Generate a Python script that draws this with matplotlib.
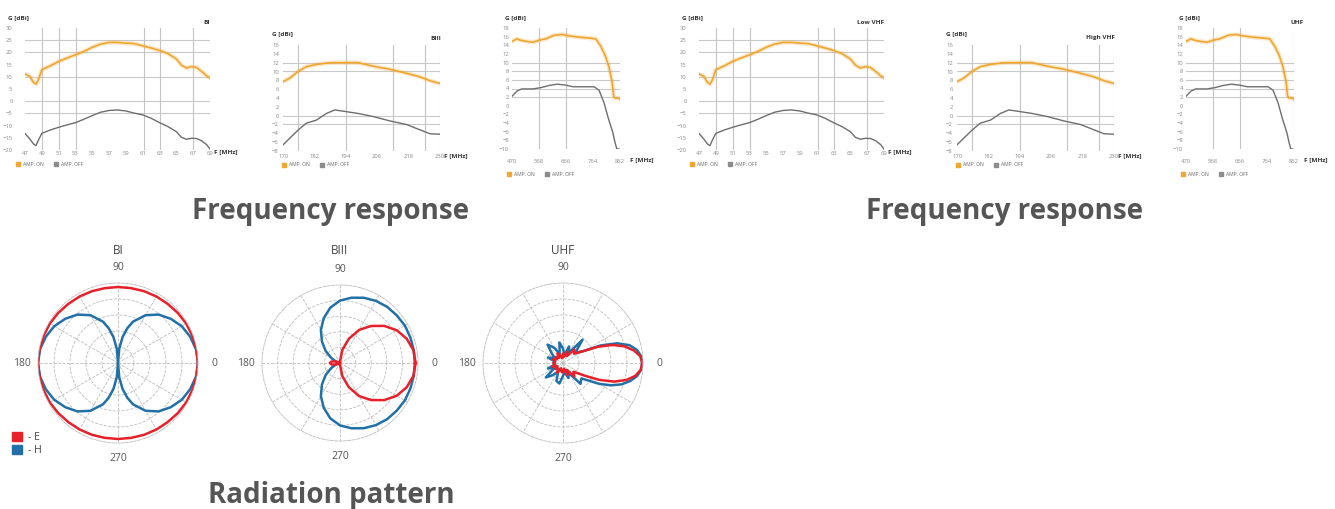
import numpy as np
import matplotlib
matplotlib.use('Agg')
import matplotlib.pyplot as plt
from matplotlib.patches import Patch

plt.rcParams['font.family'] = ['Open Sans', 'DejaVu Sans']

# ---- frequency response data ----
# BI / Low VHF
bi_freq = [47, 47.6, 48, 48.3, 48.6, 49, 50, 51, 52, 53, 54, 55, 56, 57, 58, 59,
           60, 61, 62, 63, 64, 65, 65.6, 66.2, 66.8, 67.4, 68, 68.6, 69]
bi_on = [11.2, 10.1, 7.7, 7.0, 8.8, 12.9, 14.5, 16.3, 17.7, 19.0, 20.4, 22.1, 23.4, 24.1, 24.1,
         23.8, 23.6, 22.7, 21.8, 20.8, 19.5, 17.3, 14.8, 13.6, 14.2, 13.8, 12.2, 10.4, 9.5]
bi_off = [-13.2, -15.6, -17.5, -18.2, -15.9, -13.2, -11.8, -10.7, -9.7, -8.8, -7.4, -5.9, -4.5,
          -3.8, -3.6, -4.0, -4.9, -5.6, -7.0, -8.8, -10.4, -12.5, -14.8, -15.6, -15.2, -15.3,
          -16.2, -17.8, -19.6]
bi_xticks = [47, 49, 51, 53, 55, 57, 59, 61, 63, 65, 67, 69]
bi_yticks = [30, 25, 20, 15, 10, 5, 0, -5, -10, -15, -20]

# BIII / High VHF
b3_freq = [170, 172.6, 175.7, 178.9, 182.8, 186.6, 189.8, 194.3, 198.7, 204.5, 210.9,
           217.2, 222.3, 226.2, 230]
b3_on = [7.7, 8.5, 10.0, 11.1, 11.6, 11.9, 12.0, 12.0, 12.0, 11.2, 10.5, 9.6, 8.8, 7.9, 7.3]
b3_off = [-6.6, -5.1, -3.3, -1.7, -1.0, 0.5, 1.3, 0.9, 0.5, -0.2, -1.2, -2.0, -3.2, -4.1, -4.2]
b3_xticks = [170, 182, 194, 206, 218, 230]
b3_yticks = [16, 14, 12, 10, 8, 6, 4, 2, 0, -2, -4, -6, -8]

# UHF
uhf_freq_on = [470, 488, 499, 523, 546, 570, 593, 622, 651, 675, 710, 745, 774, 792, 809,
               821, 833, 839, 844, 856, 862]
uhf_on = [14.9, 15.5, 15.2, 14.9, 14.7, 15.2, 15.5, 16.3, 16.5, 16.2, 15.9, 15.7, 15.5, 13.8,
          11.5, 9.2, 5.7, 2.2, 1.8, 1.8, 1.5]
uhf_freq_off = [470, 488, 505, 546, 575, 605, 634, 663, 692, 722, 768, 786, 804, 821, 836,
                844, 850, 862]
uhf_off = [2.2, 3.4, 3.9, 3.9, 4.2, 4.7, 5.0, 4.8, 4.4, 4.4, 4.4, 3.6, 0.7, -3.2, -6.2, -8.5,
           -9.9, -10.1]
uhf_xticks = [470, 568, 666, 764, 862]
uhf_yticks = [18, 16, 14, 12, 10, 8, 6, 4, 2, 0, -2, -4, -6, -8, -10]

titles_left = ['BI', 'BIII', '']
titles_right = ['Low VHF', 'High VHF', 'UHF']
legend_labels = ['AMP. ON', 'AMP. OFF']

# ---- radiation pattern data (normalised radius vs angle in degrees) ----
ang10 = list(range(0, 361, 10))
bi_e = [1.0, 0.995, 0.99, 0.985, 0.975, 0.965, 0.96, 0.955, 0.95, 0.95, 0.95, 0.955, 0.96,
        0.965, 0.975, 0.985, 0.99, 0.995, 1.0,
        0.995, 0.99, 0.985, 0.975, 0.965, 0.96, 0.955, 0.95, 0.95, 0.95, 0.955, 0.96, 0.965,
        0.975, 0.985, 0.99, 0.995, 1.0]
bi_h_ang = [0, 10, 20, 30, 40, 50, 60, 70, 75, 80, 85, 90, 95, 100, 105, 110, 120, 130, 140,
            150, 160, 170, 180, 190, 200, 210, 220, 230, 240, 250, 255, 260, 265, 270, 275,
            280, 285, 290, 300, 310, 320, 330, 340, 350, 360]
bi_h = [1.0, 0.99, 0.96, 0.92, 0.86, 0.79, 0.69, 0.55, 0.45, 0.33, 0.18, 0.0, 0.18, 0.33,
        0.45, 0.55, 0.69, 0.79, 0.86, 0.92, 0.96, 0.99, 1.0,
        0.99, 0.96, 0.92, 0.86, 0.79, 0.69, 0.55, 0.45, 0.33, 0.18, 0.0, 0.18, 0.33, 0.45,
        0.55, 0.69, 0.79, 0.86, 0.92, 0.96, 0.99, 1.0]
b3_e = [0.97, 0.955, 0.91, 0.84, 0.74, 0.62, 0.49, 0.33, 0.17, 0.02, 0.0, 0.0, 0.0, 0.0, 0.0,
        0.02, 0.06, 0.11, 0.13,
        0.11, 0.06, 0.02, 0.0, 0.0, 0.0, 0.0, 0.0, 0.02, 0.17, 0.33, 0.49, 0.62, 0.74, 0.84,
        0.91, 0.955, 0.97]
b3_h = [0.96, 0.96, 0.96, 0.96, 0.95, 0.94, 0.92, 0.89, 0.85, 0.80, 0.72, 0.61, 0.49, 0.36,
        0.24, 0.13, 0.06, 0.02, 0.0,
        0.02, 0.06, 0.13, 0.24, 0.36, 0.49, 0.61, 0.72, 0.80, 0.85, 0.89, 0.92, 0.94, 0.95,
        0.96, 0.96, 0.96, 0.96]
uhf_ang = [0, 5, 10, 15, 20, 25, 30, 40, 50, 60, 70, 80, 90, 100, 110, 120, 130, 140, 150,
           160, 170, 180, 190, 200, 210, 220, 230, 240, 250, 260, 270, 280, 290, 300, 310,
           320, 330, 335, 340, 345, 350, 355, 360]
uhf_e = [0.99, 0.97, 0.90, 0.80, 0.66, 0.48, 0.30, 0.18, 0.22, 0.10, 0.15, 0.08, 0.12, 0.06,
         0.10, 0.14, 0.08, 0.12, 0.09, 0.13, 0.10, 0.12, 0.10, 0.14, 0.08, 0.12, 0.09, 0.14,
         0.07, 0.11, 0.12, 0.07, 0.16, 0.10, 0.22, 0.17, 0.32, 0.50, 0.68, 0.82, 0.92, 0.975,
         0.99]
uhf_h = [0.99, 0.98, 0.94, 0.86, 0.72, 0.52, 0.30, 0.20, 0.38, 0.15, 0.22, 0.10, 0.18, 0.26,
         0.12, 0.22, 0.30, 0.18, 0.12, 0.20, 0.10, 0.12, 0.10, 0.20, 0.12, 0.28, 0.20, 0.12,
         0.24, 0.26, 0.16, 0.12, 0.20, 0.14, 0.34, 0.30, 0.52, 0.66, 0.78, 0.87, 0.94, 0.98,
         0.99]

ORANGE = '#f0a630'
GRAY = '#6e6e6e'
RED = '#e8202a'
BLUE = '#2270a8'

W, H = 1335, 509
fig = plt.figure(figsize=(W / 100, H / 100), dpi=100)


def rect(x0, y0, x1, y1):
    return [x0 / W, 1 - y1 / H, (x1 - x0) / W, (y1 - y0) / H]


def ftext(x, y, s, **kw):
    fig.text(x / W, 1 - y / H, s, **kw)


def freq_chart(box, f_on, g_on, f_off, g_off, xticks, yticks, hl, vl, title, ypad,
               gpos, tpos, fpos, lpos):
    ax = fig.add_axes(rect(*box))
    for v in hl:
        ax.axhline(v, color='#c9c9c9', lw=0.8, zorder=0)
    for v in vl:
        ax.axvline(v, color='#c4c4c4', lw=0.8, zorder=0)
    ax.plot(f_on, g_on, color=ORANGE, lw=3.2, alpha=0.25, solid_capstyle='round')
    ax.plot(f_on, g_on, color=ORANGE, lw=1.2)
    ax.plot(f_off, g_off, color=GRAY, lw=1.0)
    ax.set_xlim(xticks[0], xticks[-1])
    ax.set_ylim(yticks[-1], yticks[0])
    ax.set_xticks(xticks)
    ax.set_yticks(yticks)
    ax.tick_params(length=0, labelsize=4.2, colors='#8a8a8a')
    ax.tick_params(axis='y', pad=ypad)
    ax.tick_params(axis='x', pad=lpos[2])
    for s in ax.spines.values():
        s.set_visible(False)
    ax.patch.set_alpha(0)
    ftext(gpos[0], gpos[1], 'G [dBi]', fontsize=4.6, fontweight='bold', color='#333',
          va='center')
    if title:
        ftext(tpos[0], tpos[1], title, fontsize=4.6, fontweight='bold', color='#333',
              va='center', ha='right')
    ftext(fpos[0], fpos[1], 'F [MHz]', fontsize=4.6, fontweight='bold', color='#333',
          va='center')
    fig.legend(handles=[Patch(color=ORANGE), Patch(color='#8c8c8c')], labels=legend_labels,
               loc='center left', bbox_to_anchor=(lpos[0] / W, 1 - lpos[1] / H), ncol=2,
               fontsize=3.6, frameon=False, handlelength=0.8, handleheight=0.8,
               handletextpad=0.6, columnspacing=2.0, borderaxespad=0, borderpad=0,
               labelcolor='#666')


def draw_group(dx, titles):
    freq_chart((25 + dx, 28, 210 + dx, 150), bi_freq, bi_on, bi_freq, bi_off, bi_xticks,
               bi_yticks, [25, 20, 10, 0, -5], [49, 51, 53.1, 61.1, 63.1, 67], titles[0], 9,
               (8 + dx, 18), (210 + dx, 22), (214 + dx, 152), (16 + dx, 164, 1))
    freq_chart((283 + dx, 45, 440 + dx, 151), b3_freq, b3_on, b3_freq, b3_off, b3_xticks,
               b3_yticks, [12, 10, 0, -2], [175.7, 194, 212.1, 224.3, 230], titles[1], 3,
               (272 + dx, 34), (441 + dx, 38), (444 + dx, 156), (282 + dx, 165, 2))
    freq_chart((512 + dx, 28, 620 + dx, 149), uhf_freq_on, uhf_on, uhf_freq_off, uhf_off,
               uhf_xticks, uhf_yticks, [10, 8, 6, 4, 2], [569.5, 666, 862], titles[2], 2,
               (505 + dx, 18), (630 + dx, 22), (630 + dx, 160), (507 + dx, 174, 7))


draw_group(0, titles_left)
draw_group(674, titles_right)

ftext(331, 212, 'Frequency response', fontsize=20, fontweight='bold', color='#555',
      ha='center', va='center')
ftext(1005, 212, 'Frequency response', fontsize=20, fontweight='bold', color='#555',
      ha='center', va='center')
ftext(331, 495, 'Radiation pattern', fontsize=20, fontweight='bold', color='#555',
      ha='center', va='center')


def polar_chart(cx, cy, r, title, ang_e, r_e, ang_h, r_h):
    ax = fig.add_axes(rect(cx - r, cy - r, cx + r, cy + r), projection='polar')
    ax.plot(np.deg2rad(ang_h), r_h, color=BLUE, lw=1.8)
    ax.plot(np.deg2rad(ang_e), r_e, color=RED, lw=1.8)
    ax.set_ylim(0, 1)
    ax.set_rgrids([0.2, 0.4, 0.6, 0.8], labels=[])
    labels = ['' for _ in range(12)]
    labels[0], labels[3], labels[6], labels[9] = '0', '90', '180', '270'
    ax.set_thetagrids(list(range(0, 360, 30)), labels=labels, fontsize=7.5, color='#555')
    ax.tick_params(pad=1)
    ax.grid(color='#bdbdbd', ls='--', lw=0.6)
    ax.spines['polar'].set(color='#bdbdbd', ls='--', lw=0.6)
    ftext(cx, cy - 113, title, fontsize=8.5, color='#444', ha='center', va='center')


polar_chart(118, 363, 80, 'BI', ang10, bi_e, bi_h_ang, bi_h)
polar_chart(340, 363, 78, 'BIII', ang10, b3_e, ang10, b3_h)
polar_chart(563, 363, 80, 'UHF', uhf_ang, uhf_e, uhf_ang, uhf_h)

fig.legend(handles=[Patch(color=RED), Patch(color=BLUE)], labels=['- E', '- H'],
           loc='upper left', bbox_to_anchor=(12 / W, 1 - 432 / H), fontsize=7.5,
           frameon=False, handlelength=1.0, handleheight=1.0, handletextpad=0.5,
           labelspacing=0.15, borderaxespad=0, borderpad=0, labelcolor='#444')

fig.savefig('out.png', dpi=100)
